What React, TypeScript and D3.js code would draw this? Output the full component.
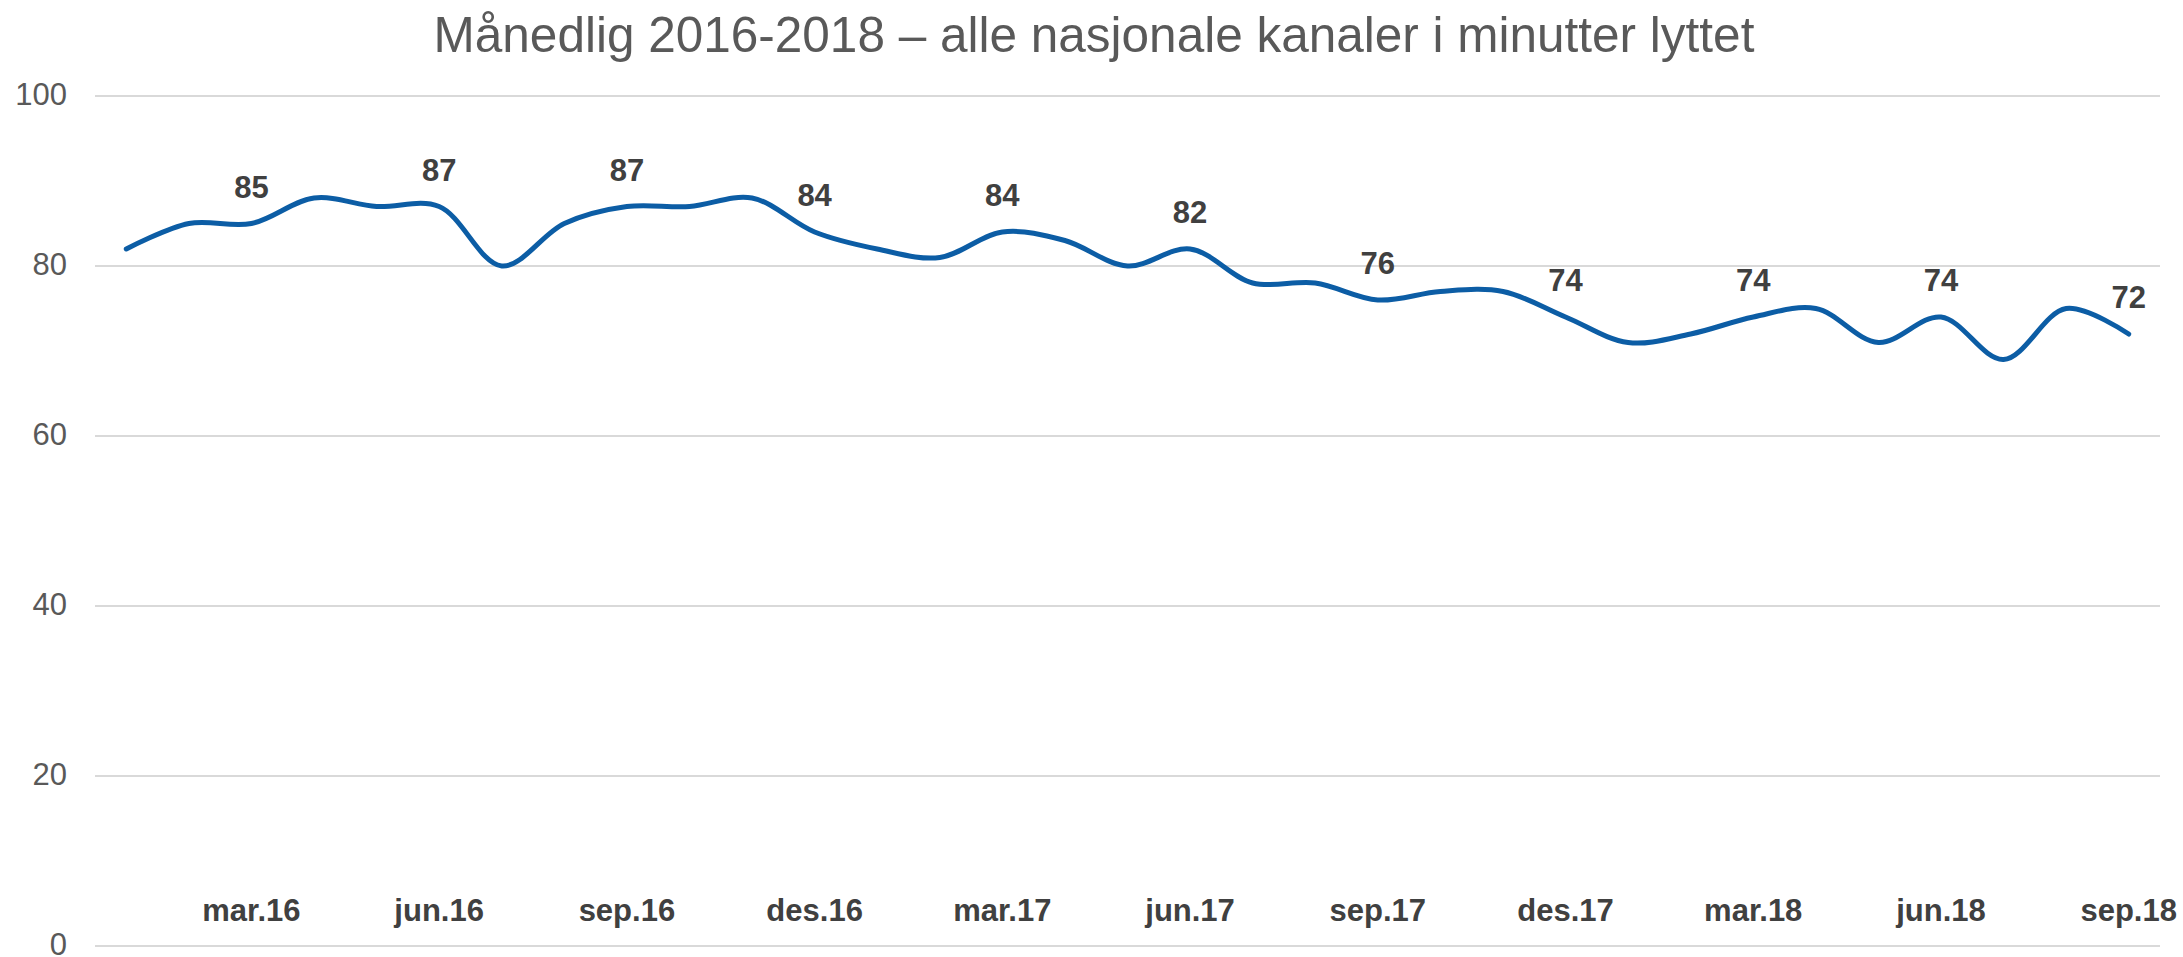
import * as d3 from "d3";

// monthly minutes listened, jan.16 – sep.18
const months = [
  "jan.16", "feb.16", "mar.16", "apr.16", "mai.16", "jun.16", "jul.16", "aug.16", "sep.16", "okt.16", "nov.16", "des.16",
  "jan.17", "feb.17", "mar.17", "apr.17", "mai.17", "jun.17", "jul.17", "aug.17", "sep.17", "okt.17", "nov.17", "des.17",
  "jan.18", "feb.18", "mar.18", "apr.18", "mai.18", "jun.18", "jul.18", "aug.18", "sep.18",
];
const minutes = [
  82, 85, 85, 88, 87, 87, 80, 85, 87, 87, 88, 84,
  82, 81, 84, 83, 80, 82, 78, 78, 76, 77, 77, 74,
  71, 72, 74, 75, 71, 74, 69, 75, 72,
];
const shownLabels = ["mar.16", "jun.16", "sep.16", "des.16", "mar.17", "jun.17", "sep.17", "des.17", "mar.18", "jun.18", "sep.18"];
const yTicks = [0, 20, 40, 60, 80, 100];

const title = "Månedlig 2016-2018 – alle nasjonale kanaler i minutter lyttet";

const width = 2183;
const height = 957;
const marginLeft = 95;
const marginRight = 23;
const marginTop = 96;
const marginBottom = 11;

export default function App() {
  const x = d3
    .scaleBand<string>()
    .domain(months)
    .range([marginLeft, width - marginRight]);
  const y = d3.scaleLinear([0, 100], [height - marginBottom, marginTop]);
  const cx = (m: string) => (x(m) ?? 0) + x.bandwidth() / 2;

  const line = d3
    .line<number>()
    .x((_, i) => cx(months[i]))
    .y((d) => y(d))
    .curve(d3.curveCatmullRom.alpha(0.5));

  const font = "'Liberation Sans', Arial, sans-serif";

  return (
    <svg
      width={width}
      height={height}
      style={{ position: "absolute", left: 0, top: 0, background: "#fff" }}
      fontFamily={font}
    >
      <text x={1094} y={52} textAnchor="middle" fontSize={49.5} fill="#595959">
        {title}
      </text>
      <g>
        {yTicks.map((t) => (
          <g key={t}>
            <line
              x1={marginLeft}
              x2={width - marginRight}
              y1={y(t)}
              y2={y(t)}
              stroke="#d9d9d9"
              strokeWidth={2}
            />
            <text
              x={67}
              y={y(t)}
              dy="0.3em"
              textAnchor="end"
              fontSize={31}
              fill="#595959"
            >
              {t}
            </text>
          </g>
        ))}
      </g>
      <g>
        {shownLabels.map((m) => (
          <text
            key={m}
            x={cx(m)}
            y={921}
            textAnchor="middle"
            fontSize={31}
            fontWeight="bold"
            fill="#404040"
          >
            {m}
          </text>
        ))}
      </g>
      <path
        d={line(minutes) ?? ""}
        fill="none"
        stroke="#0c5da5"
        strokeWidth={5}
        strokeLinecap="round"
        strokeLinejoin="round"
      />
      <g>
        {months.map((m, i) =>
          shownLabels.includes(m) ? (
            <text
              key={m}
              x={cx(m)}
              y={y(minutes[i]) - 26}
              textAnchor="middle"
              fontSize={31}
              fontWeight="bold"
              fill="#404040"
            >
              {minutes[i]}
            </text>
          ) : null
        )}
      </g>
    </svg>
  );
}
